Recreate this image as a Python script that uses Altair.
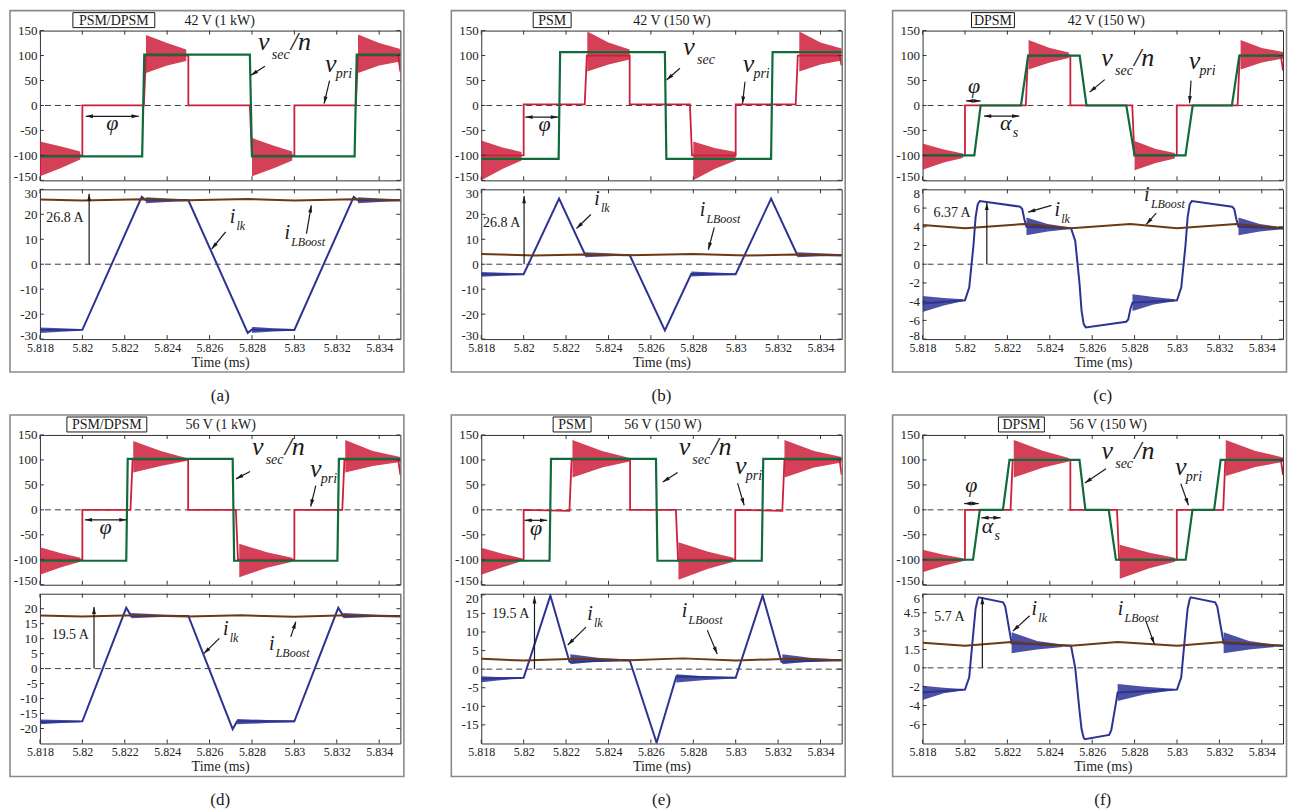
import math
import altair as alt
import pandas as pd

FONT = "Liberation Serif"
RED = "#cc1f3a"
GREEN = "#0f6b3c"
BLUE = "#2c3393"
BROWN = "#6b3a14"
INK = "#1a1a1a"
FRAME = "#333333"

W = 361
HT = 150
HB = 150
GAP = 9
COLGAP = 81
SPACER = 78

TIME_DOMAIN = [5.818, 5.835]
TIME_TICKS = [5.818, 5.820, 5.822, 5.824, 5.826, 5.828, 5.830, 5.832, 5.834]
VOLT_DOMAIN = [-150, 150]
VOLT_TICKS = [-150, -100, -50, 0, 50, 100, 150]

# ---------------- (a) PSM/DPSM 42 V (1 kW) ----------------
A_MODE = "PSM/DPSM"
A_COND = "42 V (1 kW)"
A_VPRI = [(5.818, -100), (5.8200, -100), (5.8200, 0), (5.8229, 0), (5.8230, 100), (5.8250, 100),
          (5.8250, 0), (5.8279, 0), (5.8280, -100), (5.8300, -100), (5.8300, 0), (5.8329, 0),
          (5.8330, 100), (5.8349, 100), (5.8350, 68)]
A_VSEC = [(5.818, -102), (5.82282, -102), (5.82292, 102), (5.8279, 102), (5.8280, -102),
          (5.83284, -102), (5.83294, 102), (5.835, 102)]
A_VRING = [[(5.8180, -72, -142), (5.8190, -82, -125), (5.8199, -92, -108)],
           [(5.8230, 141, 65), (5.8240, 125, 80), (5.8249, 112, 89)],
           [(5.8280, -65, -142), (5.8290, -80, -126), (5.8299, -92, -110)],
           [(5.8330, 142, 65), (5.8340, 125, 80), (5.8350, 113, 88)]]
A_ILK = [(5.818, -26.3), (5.8200, -26.3), (5.8228, 27.0), (5.8230, 25.6), (5.8250, 25.6),
         (5.8278, -27.5), (5.8280, -26.2), (5.8300, -26.3), (5.8328, 27.0), (5.8330, 25.6),
         (5.835, 25.6)]
A_IRING = [[(5.8180, -25.3, -27.6), (5.8190, -25.6, -27.1), (5.8199, -25.9, -26.7)],
           [(5.8230, 26.8, 24.4), (5.8240, 26.3, 24.9), (5.8250, 26.0, 25.3)],
           [(5.8280, -25.1, -27.5), (5.8290, -25.6, -27.0), (5.8300, -25.9, -26.7)],
           [(5.8330, 26.8, 24.4), (5.8340, 26.3, 24.9), (5.8350, 26.0, 25.3)]]
A_IBOOST = [(5.818, 25.9), (5.820, 25.5), (5.8228, 26.0), (5.825, 25.6), (5.8278, 26.1),
            (5.830, 25.5), (5.8328, 26.0), (5.835, 25.6)]
A_ITICKS = [-30, -20, -10, 0, 10, 20, 30]
A_IDOMAIN = [-30, 30]
A_TOPLAB = {"vsec": (5.82856, 112), "vpri": (5.83172, 68), "phi": (5.82141, -50)}
A_TOPARR = [(5.82861, 78.5, 5.82795, 60.5, 0), (5.83166, 49.8, 5.8314, 3.7, 0),
            (5.82016, -21.7, 5.82266, -21.7, 1)]
A_BOTLAB = {"ilk": (5.82708, 16.4), "iboost": (5.82966, 10.2), "amp": (5.81918, 16.8, "26.8 A")}
A_BOTARR = [(5.82032, 0, 5.82032, 28.2, 0), (5.82676, 13, 5.8261, 6.1, 0),
            (5.83057, 12.3, 5.8308, 23.6, 0)]

# ---------------- (b) PSM 42 V (150 W) ----------------
B_MODE = "PSM"
B_COND = "42 V (150 W)"
B_VPRI = [(5.818, -100), (5.8200, -100), (5.8200, 2), (5.82288, 2), (5.82298, 100), (5.8250, 100),
          (5.8250, 2), (5.82784, 2), (5.82794, -100), (5.8300, -100), (5.8300, 2), (5.83283, 2),
          (5.83293, 100), (5.8349, 100), (5.8350, 80)]
B_VSEC = [(5.818, -107), (5.82165, -107), (5.82172, 107), (5.82666, 107), (5.82673, -107),
          (5.83167, -107), (5.83174, 107), (5.835, 107)]
B_VRING = [[(5.8180, -70, -150), (5.8190, -84, -127), (5.8199, -93, -110)],
           [(5.8230, 148, 68), (5.8240, 126, 82), (5.8250, 112, 92)],
           [(5.8280, -72, -150), (5.8290, -85, -127), (5.8300, -93, -110)],
           [(5.8330, 148, 68), (5.8340, 126, 82), (5.8350, 114, 90)]]
B_ILK = [(5.818, -4.0), (5.8200, -4.0), (5.82167, 26.3), (5.8229, 3.8), (5.8250, 3.7),
         (5.82666, -26.5), (5.8279, -3.9), (5.8300, -4.0), (5.83167, 26.3), (5.8329, 3.8),
         (5.835, 3.7)]
B_IRING = [[(5.8180, -3.1, -5.0), (5.8190, -3.4, -4.6), (5.8199, -3.7, -4.3)],
           [(5.8229, 4.8, 2.8), (5.8240, 4.4, 3.2), (5.8250, 4.0, 3.5)],
           [(5.8279, -2.9, -4.9), (5.8290, -3.3, -4.5), (5.8300, -3.7, -4.3)],
           [(5.8329, 4.8, 2.8), (5.8340, 4.4, 3.2), (5.8350, 4.0, 3.5)]]
B_IBOOST = [(5.818, 4.1), (5.8205, 3.5), (5.8228, 3.9), (5.825, 3.6), (5.828, 4.1),
            (5.8305, 3.5), (5.8328, 3.9), (5.835, 3.5)]
B_ITICKS = [-30, -20, -10, 0, 10, 20, 30]
B_IDOMAIN = [-30, 30]
B_TOPLAB = {"vsec": (5.8278, 101), "vpri": (5.8306, 68), "phi": (5.82099, -52)}
B_TOPARR = [(5.82737, 74.5, 5.82674, 50.9, 0), (5.83044, 47.5, 5.83032, 3.7, 0),
            (5.82008, -23.3, 5.82162, -23.3, 1)]
B_BOTLAB = {"ilk": (5.82346, 23.7), "iboost": (5.82843, 19.3), "amp": (5.81896, 14.8, "26.8 A")}
B_BOTARR = [(5.82002, 0, 5.82002, 27.3, 0), (5.82317, 19.9, 5.82249, 14.3, 0),
            (5.82899, 14.8, 5.82871, 5.8, 0)]

# ---------------- (c) DPSM 42 V (150 W) ----------------
C_MODE = "DPSM"
C_COND = "42 V (150 W)"
C_VPRI = [(5.818, -100), (5.8200, -100), (5.8200, 0), (5.82287, 0), (5.82297, 100), (5.82497, 100),
          (5.82497, 0), (5.82789, 0), (5.82799, -100), (5.82999, -100), (5.82999, 0), (5.83286, 0),
          (5.83296, 100), (5.8349, 100), (5.8350, 70)]
C_VSEC = [(5.818, -100), (5.82044, -100), (5.82074, 0), (5.82264, 0), (5.82298, 100),
          (5.82541, 100), (5.82573, 0), (5.82761, 0), (5.8280, -100), (5.8304, -100),
          (5.83074, 0), (5.83259, 0), (5.83294, 100), (5.835, 100)]
C_VRING = [[(5.8180, -76, -129), (5.8190, -88, -114), (5.8199, -96, -105)],
           [(5.8230, 131, 72), (5.8240, 115, 86), (5.8249, 106, 95)],
           [(5.8280, -71, -130), (5.8290, -87, -115), (5.8299, -95, -106)],
           [(5.8330, 131, 72), (5.8340, 115, 86), (5.8350, 107, 94)]]
C_ILK = [(5.818, -4.2), (5.8200, -3.85), (5.8202, -2.5), (5.8204, 2.0), (5.8205, 5.0), (5.8206, 6.4),
         (5.8207, 6.75), (5.8226, 6.15), (5.8227, 5.9), (5.8228, 4.8), (5.8229, 4.0), (5.8250, 3.85),
         (5.8252, 2.5), (5.8254, -2.0), (5.8255, -5.0), (5.8256, -6.4), (5.8257, -6.75),
         (5.8276, -6.15), (5.8277, -5.9), (5.8278, -4.8), (5.8279, -4.1), (5.8300, -3.85),
         (5.8302, -2.5), (5.8304, 2.0), (5.8305, 5.0), (5.8306, 6.4), (5.8307, 6.75),
         (5.8326, 6.15), (5.8327, 5.9), (5.8328, 4.8), (5.8329, 4.0), (5.8350, 3.85)]
C_IRING = [[(5.8180, -3.4, -5.1), (5.8190, -3.6, -4.4), (5.8199, -3.75, -3.95)],
           [(5.8229, 5.0, 3.1), (5.8239, 4.3, 3.5), (5.8249, 3.95, 3.75)],
           [(5.8279, -3.2, -5.0), (5.8289, -3.5, -4.3), (5.8299, -3.75, -3.95)],
           [(5.8329, 5.0, 3.1), (5.8339, 4.3, 3.5), (5.8350, 3.95, 3.75)]]
C_IBOOST = [(5.818, 4.2), (5.820, 3.85), (5.8228, 4.3), (5.825, 3.85), (5.8278, 4.3),
            (5.830, 3.85), (5.8328, 4.3), (5.835, 3.85)]
C_ITICKS = [-8, -6, -4, -2, 0, 2, 4, 6, 8]
C_IDOMAIN = [-8, 8]
C_TOPLAB = {"vsec": (5.8267, 79), "vpri": (5.83082, 74), "phi": (5.82043, 24.7),
            "alpha": (5.82192, -49.7)}
C_TOPARR = [(5.82659, 51.8, 5.82588, 26.8, 0), (5.83066, 49.8, 5.83059, 4.4, 0),
            (5.82005, 9.2, 5.82074, 9.2, 1), (5.8209, -21.3, 5.82256, -21.3, 1)]
C_BOTLAB = {"ilk": (5.82435, 5.2), "iboost": (5.82858, 6.73), "amp": (5.81939, 5.0, "6.37 A")}
C_BOTARR = [(5.82103, 0, 5.82103, 6.55, 0), (5.82408, 6.29, 5.82298, 5.56, 0),
            (5.82902, 5.45, 5.82855, 4.25, 0)]

# ---------------- (d) PSM/DPSM 56 V (1 kW) ----------------
D_MODE = "PSM/DPSM"
D_COND = "56 V (1 kW)"
D_VPRI = [(5.818, -100), (5.8200, -100), (5.8200, 0), (5.82227, 0), (5.82237, 100), (5.82499, 100),
          (5.82499, 0), (5.82724, 0), (5.82734, -100), (5.8300, -100), (5.8300, 0), (5.83226, 0),
          (5.83236, 100), (5.8349, 100), (5.8350, 70)]
D_VSEC = [(5.818, -102), (5.82207, -102), (5.82214, 102), (5.82709, 102), (5.82716, -102),
          (5.83203, -102), (5.8321, 102), (5.835, 102)]
D_VRING = [[(5.8180, -75, -130), (5.8190, -87, -115), (5.8199, -96, -104)],
           [(5.8224, 138, 75), (5.8237, 118, 88), (5.8249, 104, 98)],
           [(5.8274, -68, -135), (5.8287, -85, -116), (5.8299, -96, -104)],
           [(5.8324, 140, 75), (5.8337, 118, 88), (5.8350, 106, 96)]]
D_ILK = [(5.818, -17.8), (5.8200, -17.6), (5.82207, 20.3), (5.8223, 17.6), (5.8250, 17.6),
         (5.82709, -20.2), (5.8273, -17.6), (5.8300, -17.6), (5.83207, 20.3), (5.8323, 17.6),
         (5.835, 17.6)]
D_IRING = [[(5.8180, -17.0, -18.6), (5.8190, -17.2, -18.2), (5.8199, -17.4, -17.9)],
           [(5.8223, 18.6, 16.8), (5.8237, 18.1, 17.2), (5.8250, 17.8, 17.4)],
           [(5.8273, -16.8, -18.6), (5.8287, -17.2, -18.2), (5.8300, -17.4, -17.9)],
           [(5.8323, 18.6, 16.8), (5.8337, 18.1, 17.2), (5.8350, 17.8, 17.4)]]
D_IBOOST = [(5.818, 17.7), (5.820, 17.4), (5.8225, 17.8), (5.825, 17.4), (5.8275, 17.8),
            (5.830, 17.3), (5.8325, 17.8), (5.835, 17.4)]
D_ITICKS = [-20, -15, -10, -5, 0, 5, 10, 15, 20]
D_IDOMAIN = [-25, 25]
D_TOPLAB = {"vsec": (5.82827, 110), "vpri": (5.83101, 66.7), "phi": (5.8211, -48.7)}
D_TOPARR = [(5.82791, 76.7, 5.82725, 62, 0), (5.83101, 48.7, 5.83077, 6.7, 0),
            (5.82012, -20, 5.82208, -20, 1)]
D_BOTLAB = {"ilk": (5.82676, 11.2), "iboost": (5.82893, 6.2), "amp": (5.81943, 9.8, "19.5 A")}
D_BOTARR = [(5.82055, 0, 5.82055, 20.6, 0), (5.82646, 10.1, 5.82573, 5.0, 0),
            (5.82983, 10.6, 5.83007, 15.7, 0)]

# ---------------- (e) PSM 56 V (150 W) ----------------
E_MODE = "PSM"
E_COND = "56 V (150 W)"
E_VPRI = [(5.818, -100), (5.8200, -100), (5.8200, 0), (5.82216, -2), (5.82226, 100), (5.82502, 100),
          (5.82502, 0), (5.82718, 0), (5.82728, -100), (5.82998, -100), (5.82998, 0), (5.8322, -2),
          (5.8323, 100), (5.8349, 100), (5.8350, 70)]
E_VSEC = [(5.818, -102), (5.82122, -102), (5.82129, 102), (5.82624, 102), (5.82631, -102),
          (5.83123, -102), (5.8313, 102), (5.835, 102)]
E_VRING = [[(5.8180, -76, -130), (5.8190, -88, -115), (5.8199, -97, -103)],
           [(5.8223, 140, 65), (5.8237, 118, 85), (5.8250, 104, 97)],
           [(5.8273, -65, -140), (5.8287, -84, -118), (5.8299, -96, -104)],
           [(5.8323, 140, 65), (5.8337, 118, 85), (5.8350, 106, 95)]]
E_ILK = [(5.818, -2.6), (5.8200, -2.3), (5.82126, 19.8), (5.82216, 2.0), (5.8250, 2.4),
         (5.82627, -19.8), (5.8272, -2.0), (5.8300, -2.3), (5.83127, 19.8), (5.83216, 2.0),
         (5.835, 2.4)]
E_IRING = [[(5.8180, -1.9, -3.5), (5.8190, -2.2, -2.9), (5.8199, -2.3, -2.6)],
           [(5.8222, 4.0, 1.3), (5.8236, 3.0, 2.1), (5.8250, 2.6, 2.3)],
           [(5.8272, -1.4, -3.6), (5.8286, -2.0, -2.9), (5.8300, -2.2, -2.5)],
           [(5.8322, 4.0, 1.3), (5.8336, 3.0, 2.1), (5.8350, 2.6, 2.3)]]
E_IBOOST = [(5.818, 2.8), (5.820, 2.3), (5.8225, 2.8), (5.825, 2.4), (5.8275, 2.9),
            (5.830, 2.3), (5.8325, 2.8), (5.835, 2.4)]
E_ITICKS = [-15, -10, -5, 0, 5, 10, 15, 20]
E_IDOMAIN = [-20, 20.3]
E_TOPLAB = {"vsec": (5.82758, 109.7), "vpri": (5.83024, 71.5), "phi": (5.82059, -51)}
E_TOPARR = [(5.82726, 74.8, 5.82656, 56, 0), (5.83009, 53.4, 5.8304, 9.1, 0),
            (5.82004, -21, 5.82111, -21, 1)]
E_BOTLAB = {"ilk": (5.82313, 13.1), "iboost": (5.82759, 14.0), "amp": (5.81939, 13.7, "19.5 A")}
E_BOTARR = [(5.82051, 0, 5.82051, 19.6, 0), (5.82294, 11.3, 5.82208, 6.5, 0),
            (5.82866, 10.5, 5.82913, 4.1, 0)]

# ---------------- (f) DPSM 56 V (150 W) ----------------
F_MODE = "DPSM"
F_COND = "56 V (150 W)"
F_VPRI = [(5.818, -100), (5.8200, -100), (5.8200, 0), (5.82215, 0), (5.82225, 100), (5.82497, 100),
          (5.82497, 0), (5.82717, 0), (5.82727, -100), (5.82999, -100), (5.82999, 0), (5.83218, 0),
          (5.83228, 100), (5.8349, 100), (5.8350, 70)]
F_VSEC = [(5.818, -100), (5.82038, -100), (5.8207, 0), (5.82179, 0), (5.8221, 100), (5.8254, 100),
          (5.82568, 0), (5.82678, 0), (5.82712, -100), (5.83041, -100), (5.83073, 0),
          (5.83175, 0), (5.83206, 100), (5.835, 100)]
F_VRING = [[(5.8180, -80, -125), (5.8190, -90, -112), (5.8199, -97, -103)],
           [(5.8223, 140, 65), (5.8237, 118, 85), (5.8249, 104, 97)],
           [(5.8273, -70, -138), (5.8287, -86, -117), (5.8299, -96, -104)],
           [(5.8323, 140, 68), (5.8337, 118, 86), (5.8350, 105, 96)]]
F_ILK = [(5.818, -2.6), (5.8200, -2.3), (5.8202, -1.0), (5.8204, 3.0), (5.8205, 4.8), (5.8206, 5.6),
         (5.82065, 5.75), (5.8218, 5.35), (5.8219, 5.0), (5.8221, 3.0), (5.8222, 2.0), (5.8250, 1.8),
         (5.8252, 0.0), (5.8254, -4.5), (5.8255, -6.5), (5.8256, -7.4), (5.82565, -7.55),
         (5.8268, -7.1), (5.8269, -6.6), (5.8271, -4.0), (5.8272, -2.6), (5.8300, -2.3),
         (5.8302, -1.0), (5.8304, 3.0), (5.8305, 4.8), (5.8306, 5.6), (5.83065, 5.75),
         (5.8318, 5.35), (5.8319, 5.0), (5.8321, 3.0), (5.8322, 2.0), (5.835, 1.8)]
F_IRING = [[(5.8180, -1.9, -3.4), (5.8190, -2.1, -2.7), (5.8199, -2.25, -2.4)],
           [(5.8222, 2.9, 1.2), (5.8234, 2.2, 1.5), (5.8246, 1.9, 1.7)],
           [(5.8272, -1.7, -3.5), (5.8285, -2.0, -2.8), (5.8298, -2.2, -2.4)],
           [(5.8322, 2.9, 1.2), (5.8334, 2.2, 1.5), (5.8346, 1.9, 1.7)]]
F_IBOOST = [(5.818, 2.05), (5.820, 1.8), (5.8222, 2.1), (5.825, 1.8), (5.8272, 2.1),
            (5.830, 1.8), (5.8322, 2.1), (5.835, 1.8)]
F_ITICKS = [-6, -4, -2, 0, 1.5, 3, 4.5, 6]
F_IDOMAIN = [-8, 0, 6.05]
F_IFRAC = [1.0, 0.495, 0.0]
F_TOPLAB = {"vsec": (5.82671, 102.2), "vpri": (5.83018, 69), "phi": (5.8203, 35.9),
            "alpha": (5.82106, -47)}
F_TOPARR = [(5.82665, 82.3, 5.82566, 53.8, 0), (5.83018, 52.5, 5.83054, 9.3, 0),
            (5.81996, 12.6, 5.82065, 12.6, 1), (5.82077, -15.9, 5.82168, -15.9, 1)]
F_BOTLAB = {"ilk": (5.82327, 4.33), "iboost": (5.82734, 4.33), "amp": (5.81927, 3.83, "5.7 A")}
F_BOTARR = [(5.82082, 0, 5.82082, 5.78, 0), (5.82305, 4.25, 5.82226, 3.0, 0),
            (5.82853, 3.83, 5.82893, 1.94, 0)]

# layout of the boxed mode label and the condition text (pixels from plot's top-left)
TITLE_POS = {"a": (33, 115, 180), "b": (52, 90, 191), "c": (49, 92, 184),
             "d": (27, 107, 181), "e": (72, 110, 182), "f": (76, 122, 186)}

PANELS = [
    dict(key="a", mode=A_MODE, cond=A_COND, vpri=A_VPRI, vsec=A_VSEC, vring=A_VRING, ilk=A_ILK,
         iring=A_IRING, iboost=A_IBOOST, iticks=A_ITICKS, idomain=A_IDOMAIN, ifrac=None,
         toplab=A_TOPLAB, toparr=A_TOPARR, botlab=A_BOTLAB, botarr=A_BOTARR, suffix=True),
    dict(key="b", mode=B_MODE, cond=B_COND, vpri=B_VPRI, vsec=B_VSEC, vring=B_VRING, ilk=B_ILK,
         iring=B_IRING, iboost=B_IBOOST, iticks=B_ITICKS, idomain=B_IDOMAIN, ifrac=None,
         toplab=B_TOPLAB, toparr=B_TOPARR, botlab=B_BOTLAB, botarr=B_BOTARR, suffix=False),
    dict(key="c", mode=C_MODE, cond=C_COND, vpri=C_VPRI, vsec=C_VSEC, vring=C_VRING, ilk=C_ILK,
         iring=C_IRING, iboost=C_IBOOST, iticks=C_ITICKS, idomain=C_IDOMAIN, ifrac=None,
         toplab=C_TOPLAB, toparr=C_TOPARR, botlab=C_BOTLAB, botarr=C_BOTARR, suffix=True),
    dict(key="d", mode=D_MODE, cond=D_COND, vpri=D_VPRI, vsec=D_VSEC, vring=D_VRING, ilk=D_ILK,
         iring=D_IRING, iboost=D_IBOOST, iticks=D_ITICKS, idomain=D_IDOMAIN, ifrac=None,
         toplab=D_TOPLAB, toparr=D_TOPARR, botlab=D_BOTLAB, botarr=D_BOTARR, suffix=True),
    dict(key="e", mode=E_MODE, cond=E_COND, vpri=E_VPRI, vsec=E_VSEC, vring=E_VRING, ilk=E_ILK,
         iring=E_IRING, iboost=E_IBOOST, iticks=E_ITICKS, idomain=E_IDOMAIN, ifrac=None,
         toplab=E_TOPLAB, toparr=E_TOPARR, botlab=E_BOTLAB, botarr=E_BOTARR, suffix=True),
    dict(key="f", mode=F_MODE, cond=F_COND, vpri=F_VPRI, vsec=F_VSEC, vring=F_VRING, ilk=F_ILK,
         iring=F_IRING, iboost=F_IBOOST, iticks=F_ITICKS, idomain=F_IDOMAIN, ifrac=F_IFRAC,
         toplab=F_TOPLAB, toparr=F_TOPARR, botlab=F_BOTLAB, botarr=F_BOTARR, suffix=True),
]

LABEL_NUM = "datum.value < 0 ? '-' + format(-datum.value, '~g') : format(datum.value, '~g')"
LABEL_TIME = "format(datum.value, '.3~f')"
ARROW = "M0,0L-0.65,2.4L0.65,2.4Z"

STYLES = {
    "big": dict(fontSize=26, fontStyle="italic", align="center"),
    "sec": dict(fontSize=14, fontStyle="italic", align="left", dx=8, dy=9),
    "pri": dict(fontSize=14, fontStyle="italic", align="left", dx=5, dy=6),
    "over": dict(fontSize=26, fontStyle="italic", align="left", dx=27),
    "greek": dict(fontSize=22, fontStyle="italic", align="center"),
    "asub": dict(fontSize=14, fontStyle="italic", align="left", dx=7, dy=7),
    "i": dict(fontSize=20, fontStyle="italic", align="center"),
    "isub": dict(fontSize=12, fontStyle="italic", align="left", dx=4, dy=7),
    "amp": dict(fontSize=14, align="center"),
}


def px_map(domain, rng):
    def f(v):
        n = len(domain)
        for k in range(n - 1):
            d0, d1 = domain[k], domain[k + 1]
            if v <= d1 or k == n - 2:
                return rng[k] + (v - d0) / (d1 - d0) * (rng[k + 1] - rng[k])
    return f


def series_df(pts):
    return pd.DataFrame({"i": list(range(len(pts))), "x": [p[0] for p in pts],
                         "y": [p[1] for p in pts]})


def ring_df(segs):
    rows = []
    for k, seg in enumerate(segs):
        for (t, up, lo) in seg:
            rows.append({"seg": k, "x": t, "y": up, "y2": lo})
    return pd.DataFrame(rows)


def edge_offset(ticks, domain, top_shift, bottom_shift):
    conds = []
    tmax, tmin = max(ticks), min(ticks)
    if top_shift and abs(tmax - domain[-1]) < 0.5:
        conds.append({"test": "datum.value == %s" % tmax, "value": top_shift})
    if bottom_shift and abs(tmin - domain[0]) < 0.5:
        conds.append({"test": "datum.value == %s" % tmin, "value": bottom_shift})
    if not conds:
        return 0
    return {"condition": conds if len(conds) > 1 else conds[0], "value": 0}


def build(P, part):
    H = HT if part == "top" else HB
    xs = alt.Scale(domain=TIME_DOMAIN, nice=False, zero=False)
    if part == "top":
        X = alt.X("x:Q", scale=xs, axis=None)
        ydom, yfrac, yticks = VOLT_DOMAIN, None, VOLT_TICKS
        off = edge_offset(yticks, ydom, 0, -4)
    else:
        X = alt.X("x:Q", scale=xs,
                  axis=alt.Axis(values=TIME_TICKS, labelExpr=LABEL_TIME, title="Time (ms)",
                                labelFlush=False, labelOverlap=False, labelPadding=3,
                                labelFontSize=12, titleFontSize=14, titlePadding=2))
        ydom, yfrac, yticks = P["idomain"], P["ifrac"], P["iticks"]
        off = edge_offset(yticks, ydom, 4, -4)
    if yfrac:
        rng = [H * f for f in yfrac]
        ys = alt.Scale(domain=ydom, range=rng, nice=False, zero=False)
    else:
        rng = [H, 0]
        ys = alt.Scale(domain=ydom, nice=False, zero=False)
    fy = px_map(ydom, rng)
    fx = px_map(TIME_DOMAIN, [0, W])
    Y = alt.Y("y:Q", scale=ys,
              axis=alt.Axis(values=yticks, labelExpr=LABEL_NUM, title=None, labelFlush=False,
                            labelOverlap=False, labelPadding=3, labelOffset=off))

    layers = []
    # dashed zero line
    layers.append(alt.Chart(pd.DataFrame({"y": [0]})).mark_rule(
        color="#3c3c3c", strokeWidth=1, strokeDash=[6, 4]).encode(y=Y))

    if part == "top":
        ring, ringcol, l1, c1, l2, c2 = P["vring"], RED, P["vpri"], RED, P["vsec"], GREEN
        w1, w2 = 1.8, 2.2
    else:
        ring, ringcol, l1, c1, l2, c2 = P["iring"], BLUE, P["ilk"], BLUE, P["iboost"], BROWN
        w1, w2 = 2.0, 2.0
    layers.append(alt.Chart(ring_df(ring)).mark_area(
        orient="vertical", color=ringcol, opacity=0.85, clip=True).encode(
        x=X, y=Y, y2="y2:Q", detail="seg:N"))
    layers.append(alt.Chart(series_df(l1)).mark_line(
        color=c1, strokeWidth=w1, clip=True).encode(x=X, y=Y, order="i:Q"))
    layers.append(alt.Chart(series_df(l2)).mark_line(
        color=c2, strokeWidth=w2, clip=True).encode(x=X, y=Y, order="i:Q"))

    # inward tick marks on all four sides
    xt = pd.DataFrame({"x": TIME_TICKS})
    yt = pd.DataFrame({"y": yticks})
    tk = dict(color=FRAME, strokeWidth=1)
    layers.append(alt.Chart(xt).mark_rule(**tk).encode(x=X, y=alt.value(H), y2=alt.value(H - 4)))
    layers.append(alt.Chart(xt).mark_rule(**tk).encode(x=X, y=alt.value(0), y2=alt.value(4)))
    layers.append(alt.Chart(yt).mark_rule(**tk).encode(y=Y, x=alt.value(0), x2=alt.value(4)))
    layers.append(alt.Chart(yt).mark_rule(**tk).encode(y=Y, x=alt.value(W), x2=alt.value(W - 4)))

    # arrows
    arrows = P["toparr"] if part == "top" else P["botarr"]
    lines = pd.DataFrame([{"x": a[0], "y": a[1], "x2": a[2], "y2": a[3]} for a in arrows])
    heads = []
    for (x1, y1, x2, y2, both) in arrows:
        pairs = [((x1, y1), (x2, y2))]
        if both:
            pairs.append(((x2, y2), (x1, y1)))
        for (a, b) in pairs:
            dx = fx(b[0]) - fx(a[0])
            dy = fy(b[1]) - fy(a[1])
            ang = math.degrees(math.atan2(dx, -dy)) % 360
            heads.append({"x": b[0], "y": b[1], "ang": ang})
    layers.append(alt.Chart(lines).mark_rule(color=INK, strokeWidth=1.2).encode(
        x=X, y=Y, x2="x2:Q", y2="y2:Q"))
    layers.append(alt.Chart(pd.DataFrame(heads)).mark_point(
        shape=ARROW, filled=True, size=36, color=INK, opacity=1).encode(
        x=X, y=Y, angle=alt.Angle("ang:Q", scale=None)))

    # text annotations
    items = []
    if part == "top":
        lab = P["toplab"]
        x, y = lab["vsec"]
        items += [(x, y, "v", "big"), (x, y, "sec", "sec")]
        if P["suffix"]:
            items.append((x, y, "/n", "over"))
        x, y = lab["vpri"]
        items += [(x, y, "v", "big"), (x, y, "pri", "pri")]
        x, y = lab["phi"]
        items.append((x, y, "\u03c6", "greek"))
        if "alpha" in lab:
            x, y = lab["alpha"]
            items += [(x, y, "\u03b1", "greek"), (x, y, "s", "asub")]
    else:
        lab = P["botlab"]
        x, y = lab["ilk"]
        items += [(x, y, "i", "i"), (x, y, "lk", "isub")]
        x, y = lab["iboost"]
        items += [(x, y, "i", "i"), (x, y, "LBoost", "isub")]
        x, y, t = lab["amp"]
        items.append((x, y, t, "amp"))
    tdf = pd.DataFrame([{"x": a, "y": b, "text": t, "style": s} for (a, b, t, s) in items])
    for s in tdf["style"].unique():
        sub = tdf[tdf["style"] == s][["x", "y", "text"]]
        layers.append(alt.Chart(sub).mark_text(
            font=FONT, baseline="alphabetic", color=INK, **STYLES[s]).encode(
            x=X, y=Y, text="text:N"))

    if part == "top":
        bx0, bx1, ccx = TITLE_POS[P["key"]]
        one = pd.DataFrame({"text": [P["mode"]]})
        layers.append(alt.Chart(one).mark_rect(
            fillOpacity=0, stroke=INK, strokeWidth=1).encode(
            x=alt.value(bx0), x2=alt.value(bx1), y=alt.value(-18), y2=alt.value(-3)))
        layers.append(alt.Chart(one).mark_text(
            font=FONT, fontSize=14, color=INK, baseline="middle", align="center").encode(
            x=alt.value((bx0 + bx1) / 2), y=alt.value(-10), text="text:N"))
        layers.append(alt.Chart(pd.DataFrame({"text": [P["cond"]]})).mark_text(
            font=FONT, fontSize=14, color=INK, baseline="middle", align="center").encode(
            x=alt.value(ccx), y=alt.value(-10), text="text:N"))
    else:
        one = pd.DataFrame({"text": ["(" + P["key"] + ")"]})
        layers.append(alt.Chart(one).mark_rect(
            fillOpacity=0, stroke="#8a8a8a", strokeWidth=1.6).encode(
            x=alt.value(-30), x2=alt.value(W + 3.5),
            y=alt.value(-(HT + GAP + 20)), y2=alt.value(H + 33)))
        layers.append(alt.Chart(one).mark_text(
            font=FONT, fontSize=17, color=INK, baseline="middle", align="center").encode(
            x=alt.value(W / 2), y=alt.value(H + 57), text="text:N"))

    return alt.layer(*layers).properties(width=W, height=H)


def spacer():
    return alt.Chart(pd.DataFrame({"t": [""]})).mark_text().encode(text="t:N").properties(
        width=W, height=SPACER, view=alt.ViewBackground(stroke="transparent"))


cells = []
cells += [build(P, "top") for P in PANELS[:3]]
cells += [build(P, "bottom") for P in PANELS[:3]]
cells += [spacer(), spacer(), spacer()]
cells += [build(P, "top") for P in PANELS[3:]]
cells += [build(P, "bottom") for P in PANELS[3:]]

chart = alt.concat(*cells, columns=3, spacing={"row": GAP, "column": COLGAP},
                   bounds="flush").resolve_scale(x="independent", y="independent")
chart = chart.properties(padding={"left": 0, "top": 0, "right": 0, "bottom": 0}).configure_view(
    stroke=FRAME, strokeWidth=1).configure_axis(
    labelFont=FONT, titleFont=FONT, labelFontSize=13, labelColor="#222222",
    titleColor="#222222", titleFontWeight="normal", grid=False, domain=False, ticks=False)

chart.save("out.html", embed_options={"renderer": "svg", "actions": False})
